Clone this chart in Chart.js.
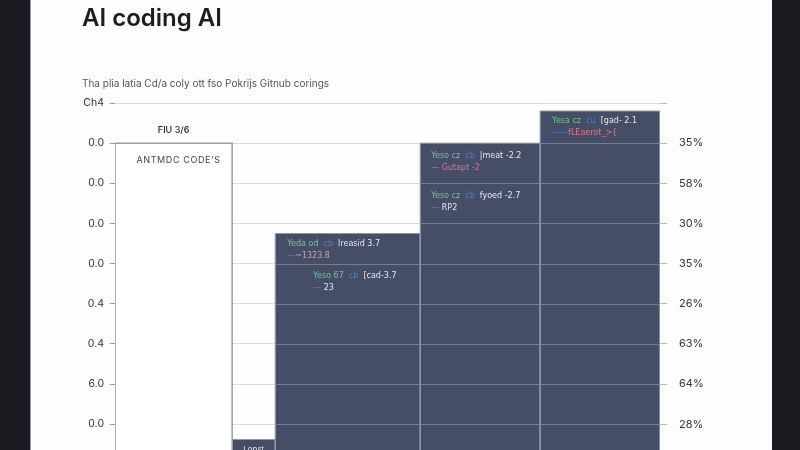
<!DOCTYPE html>
<html>
<head>
<meta charset="utf-8">
<script src="https://cdn.jsdelivr.net/npm/chart.js@4.4.1/dist/chart.umd.min.js"></script>
<style>
  html, body { margin: 0; padding: 0; width: 800px; height: 450px; overflow: hidden; background: #1b1c21; }
  #card { position: absolute; left: 30px; top: 0; width: 741px; height: 450px; background: #fdfdfd; border-left: 1px solid #9a9ca3; }
  #title { position: absolute; left: 82px; top: -36px; font: 600 24px Inter, sans-serif; line-height: 36px; color: #1d1d1f; white-space: nowrap; }
  #sub { position: absolute; left: 82px; top: 77px; font: 10px Inter, sans-serif; color: #555; white-space: nowrap; }
  #wrap { position: absolute; left: 0; top: 0; width: 800px; height: 483px; }
</style>
</head>
<body>
<div id="card"></div>
<div id="wrap"><canvas id="chart"></canvas></div>
<div id="title">Copy paste programming, yearly pulse<br>AI coding AI</div>
<div id="sub">Tha plia latia Cd/a coly ott fso Pokrijs Gitnub corings</div>
<script>
const barLabels = ["FIU 3/6", "Lopst", "", "", ""];
const binEdges = [0, 21.5, 29.4, 56, 78, 100];
const barValues = [8, 0.62, 5.75, 8, 8.8];
const leftTicks = ["", "0.0", "6.0", "0.4", "0.4", "0.0", "0.0", "0.0", "0.0", "Ch4"];
const rightTicks = ["", "28%", "64%", "63%", "26%", "35%", "30%", "58%", "35%", ""];
const whiteCaption = "ANTMDC CODE'S";

// code-like snippets shown inside the dark bars
const snippets = [
  null,
  null,
  [
    [[["Yeda od", "#6cc58a"], ["  cb", "#4d7fd6"], ["  lreasid 3.7", "#e6e8ee"]], [["—", "#4d7fd6"], ["~1323.8", "#c8a3a6"]]],
    [[["Yeso 67", "#6cc58a"], ["  cb", "#4d7fd6"], ["  [cad-3.7", "#e6e8ee"]], [["—", "#4d7fd6"], [" 23", "#e6e8ee"]]]
  ],
  [
    [[["Yeso cz", "#6cc58a"], ["  cb", "#4d7fd6"], ["  |meat -2.2", "#e6e8ee"]], [["—", "#c07090"], [" Gutapt -2", "#d47a8a"]]],
    [[["Yeso cz", "#6cc58a"], ["  cb", "#4d7fd6"], ["  fyoed -2.7", "#e6e8ee"]], [["—", "#4d7fd6"], [" RP2", "#e6e8ee"]]]
  ],
  [
    [[["Yesa cz", "#6cc58a"], ["  cu", "#4d7fd6"], ["  [gad- 2.1", "#e6e8ee"]], [["——", "#4d7fd6"], ["fLEaerot_>{", "#d47a8a"]]]
  ]
];
const snippetOffsets = [null, null, [[12, 10], [38, 42]], [[11, 13], [11, 53]], [[12, 10]]];

const datasets = barValues.map((v, i) => ({
  data: [
    { x: binEdges[i], y: 0 },
    { x: binEdges[i], y: v },
    { x: binEdges[i + 1], y: v },
    { x: binEdges[i + 1], y: 0 }
  ],
  showLine: true,
  fill: "origin",
  backgroundColor: i === 0 ? "#ffffff" : "#454e66",
  borderColor: i === 0 ? "#9a9ca3" : "#8e97ab",
  borderWidth: i === 0 ? 1.5 : 1,
  pointRadius: 0,
  tension: 0
}));

const barText = {
  id: "barText",
  afterDatasetsDraw(chart) {
    const ctx = chart.ctx, x = chart.scales.x, y = chart.scales.y;
    ctx.save();
    // faint grid lines across the dark bars
    ctx.strokeStyle = "rgba(175,185,205,0.45)";
    ctx.lineWidth = 1;
    for (let i = 1; i < barValues.length; i++) {
      const l = x.getPixelForValue(binEdges[i]), r = x.getPixelForValue(binEdges[i + 1]);
      for (let t = 1; t < barValues[i]; t++) {
        const py = Math.round(y.getPixelForValue(t)) + 0.5;
        ctx.beginPath(); ctx.moveTo(l + 1, py); ctx.lineTo(r - 1, py); ctx.stroke();
      }
    }
    // labels
    ctx.textBaseline = "middle";
    barLabels.forEach((lab, i) => {
      if (!lab) return;
      const l = x.getPixelForValue(binEdges[i]), r = x.getPixelForValue(binEdges[i + 1]);
      const top = y.getPixelForValue(barValues[i]);
      ctx.textAlign = "center";
      if (i === 0) {
        ctx.font = "500 9px Inter, sans-serif"; ctx.fillStyle = "#222";
        ctx.fillText(lab, (l + r) / 2, top - 13);
        ctx.font = "9px Inter, sans-serif"; ctx.fillStyle = "#444";
        ctx.letterSpacing = "0.6px";
        ctx.fillText(whiteCaption, (l + r) / 2 + 5, top + 17);
        ctx.letterSpacing = "0px";
      } else {
        ctx.font = "8px Inter, sans-serif"; ctx.fillStyle = "#dfe2ea";
        ctx.fillText(lab, (l + r) / 2, top + 10);
      }
    });
    ctx.textAlign = "left";
    ctx.font = "8px 'DejaVu Sans', sans-serif";
    snippets.forEach((blocks, i) => {
      if (!blocks) return;
      const l = x.getPixelForValue(binEdges[i]);
      const top = y.getPixelForValue(barValues[i]);
      blocks.forEach((lines, b) => {
        const [ox, oy] = snippetOffsets[i][b];
        lines.forEach((parts, k) => {
          let px = l + ox;
          const py = top + oy + k * 12;
          parts.forEach(([txt, col]) => {
            ctx.fillStyle = col;
            ctx.fillText(txt, px, py);
            px += ctx.measureText(txt).width;
          });
        });
      });
    });
    ctx.restore();
  }
};

new Chart(document.getElementById("chart"), {
  type: "scatter",
  data: { datasets },
  plugins: [barText],
  options: {
    responsive: true,
    maintainAspectRatio: false,
    animation: false,
    layout: { padding: { top: 103, bottom: 8, left: 0, right: 0 } },
    plugins: { legend: { display: false }, tooltip: { enabled: false } },
    scales: {
      x: { type: "linear", min: 0, max: 100, display: false },
      y: {
        min: 0, max: 9,
        ticks: { stepSize: 1, padding: 6, color: "#333", font: { family: "Inter", size: 10.5 },
          callback: v => leftTicks[v] ?? "" },
        grid: { color: "#dcdcdc", tickLength: 5, tickColor: "#999" },
        border: { display: false },
        afterFit: s => { s.width = 115; }
      },
      y2: {
        position: "right",
        min: 0, max: 9,
        ticks: { stepSize: 1, padding: 12, color: "#333", font: { family: "Inter", size: 11 },
          callback: v => rightTicks[v] ?? "" },
        grid: { drawOnChartArea: false, tickLength: 7, tickColor: "#bbb" },
        border: { display: false },
        afterFit: s => { s.width = 140; }
      }
    }
  }
});
</script>
</body>
</html>
